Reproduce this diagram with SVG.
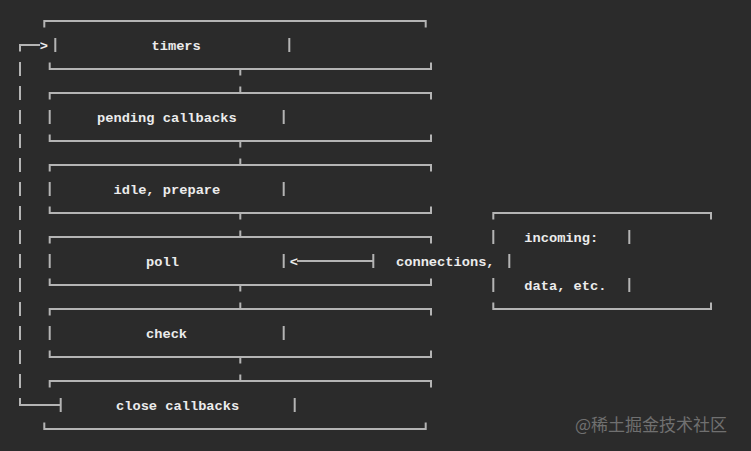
<svg xmlns="http://www.w3.org/2000/svg" width="751" height="451" viewBox="0 0 751 451">
<style>
.ln{stroke:#b4b4b4;stroke-width:2;fill:none;stroke-linecap:butt;stroke-linejoin:miter}
.t{font-family:"Liberation Mono","DejaVu Sans Mono",monospace;font-weight:bold;font-size:13.7px;fill:#ececec}
.wm{font-family:"Noto Sans CJK SC","Noto Sans",sans-serif;font-size:17px;fill:#707070}
</style>
<rect x="0" y="0" width="751" height="451" fill="#2b2b2b"/>

<g id="timers">
<path class="ln" d="M44.3 27.5V21H425.7V27.5 M55.3 38V52 M289.3 38V52 M49.7 62.5V69H431V62.5"/>
<text class="t" x="151.5" y="50">timers</text>
</g>

<g id="pending-callbacks">
<path class="ln" d="M49.7 99.5V93H431V99.5 M49.7 110V124 M283.7 110V124 M49.7 134.5V141H431V134.5"/>
<text class="t" x="97" y="122">pending callbacks</text>
</g>

<g id="idle-prepare">
<path class="ln" d="M49.7 171.5V165H431V171.5 M49.7 182V196 M283.7 182V196 M49.7 206.5V213H431V206.5"/>
<text class="t" x="113.5" y="194">idle, prepare</text>
</g>

<g id="poll">
<path class="ln" d="M49.7 243.5V237H431V243.5 M49.7 254V268 M283.7 254V268 M49.7 278.5V285H431V278.5"/>
<text class="t" x="146" y="266">poll</text>
</g>

<g id="check">
<path class="ln" d="M49.7 315.5V309H431V315.5 M49.7 326V340 M283.7 326V340 M49.7 350.5V357H431V350.5"/>
<text class="t" x="146" y="338">check</text>
</g>

<g id="close-callbacks">
<path class="ln" d="M49.7 387.5V381H431V387.5 M60.7 398V412 M294.7 398V412 M44.3 422.5V429H425.7V422.5"/>
<text class="t" x="116" y="410">close callbacks</text>
</g>

<g id="incoming">
<path class="ln" d="M493.3 219.5V213H711V219.5 M493.3 230V244 M629.3 230V244 M509.3 254V268 M493.3 278V292 M629.3 278V292 M493.3 302.5V309H711V302.5"/>
<text class="t" x="524.3" y="242">incoming:</text>
<text class="t" x="396" y="266">connections,</text>
<text class="t" x="524.3" y="290">data, etc.</text>
</g>

<g id="connectors">
<path class="ln" d="M240.3 69V75.5 M240.3 86.5V93 M240.3 141V147.5 M240.3 158.5V165 M240.3 213V219.5 M240.3 230.5V237 M240.3 285V291.5 M240.3 302.5V309 M240.3 357V363.5 M240.3 374.5V381"/>
<path class="ln" d="M40 45H20V51.5 M20 62V76 M20 86V100 M20 110V124 M20 134V148 M20 158V172 M20 182V196 M20 206V220 M20 230V244 M20 254V268 M20 278V292 M20 302V316 M20 326V340 M20 350V364 M20 374V388 M20 398V405H60.7"/>
<text class="t" x="39.8" y="50">&gt;</text>
<path class="ln" d="M297 261H373.3 M373.3 254V268"/>
<text class="t" x="289.8" y="266">&lt;</text>
</g>

<text class="wm" x="575" y="431">@稀土掘金技术社区</text>
</svg>
